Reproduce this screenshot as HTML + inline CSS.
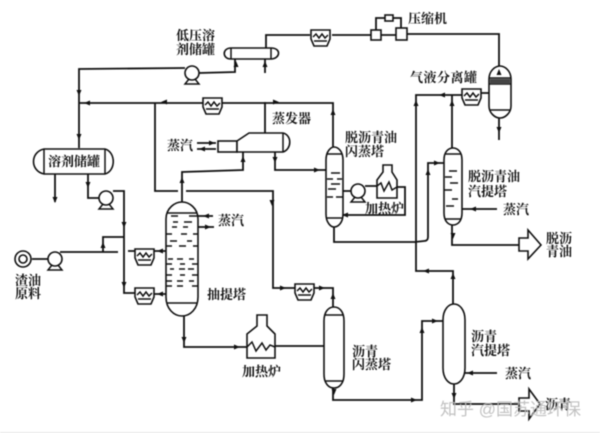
<!DOCTYPE html>
<html lang="zh"><head><meta charset="utf-8"><title>溶剂脱沥青工艺流程</title>
<style>
html,body{margin:0;padding:0;background:#fff}
svg{display:block;filter:blur(.45px)}
text{font-family:"Liberation Serif","Noto Serif CJK SC",serif;font-weight:700;font-size:13px;fill:#111}
.l{fill:none;stroke:#111;stroke-width:1.8}
.t{fill:none;stroke:#111;stroke-width:1.5}
.v{fill:#fff;stroke:#111;stroke-width:1.6}
</style></head><body>
<svg width="600" height="433" viewBox="0 0 600 433" xmlns="http://www.w3.org/2000/svg">
<defs>
<g id="cooler"><path class="v" d="M0 1H19V10L16 17H3L0 10Z"/><path class="t" d="M2 8l3-3 3 4 3-4 3 4 3-3M3 12H16"/></g>
<g id="pump"><circle class="v" cx="0" cy="0" r="7"/><path class="t" d="M-3 6L-7 11H7L3 6"/></g>
<path id="au" d="M-2.5 3L0 -3L2.5 3Z" fill="#111"/>
<path id="ar" d="M-3 -2.5L3 0L-3 2.5Z" fill="#111"/>
<path id="al" d="M3 -2.5L-3 0L3 2.5Z" fill="#111"/>
<path id="ad" d="M-2.5 -3L0 3L2.5 -3Z" fill="#111"/>
</defs>

<!-- pipes -->
<g class="l">
<path d="M79 148V69L185 68M199 73L235 72V59M265 73V59"/>
<path d="M79 103H333V148"/>
<path d="M155 103V191H178"/>
<path d="M266 48V35H310M332 35H371M381 35H396M376 30V18H385M393 18H401V28M407 34H499V66"/>
<path d="M499 118V140M489 93H481M462 95H416V271H453V304M452 95V148"/>
<path d="M265 102V133M243 152V170L182 172V202M275 151V170H326"/>
<path d="M186 191H273V288H295M314 288H333V307"/>
<path d="M184 316V347H247M275 346H324"/>
<path d="M333 388V400H422V321H443"/>
<path d="M334 227V242H415L424 241Q428 241 428 237V163H444"/>
<path d="M343 191H351M365 186H378M397 187H405V215H343"/>
<path d="M462 209H497M465 373H497M198 216H213M198 227H214"/>
<path d="M452 225V245H519M454 384V404H519"/>
<path d="M55 174V202M88 174V198H100M113 191H124V293H135M153 294H166"/>
<path d="M124 237H103V252M60 252H118M32 259H48M128 251H135M153 251H166"/>
<path d="M197 143H216M197 149H216"/>
</g>

<!-- vessels -->
<path class="v" d="M231 48H271C282 48 280 59 271 59H231C222 59 222 48 231 48Z"/>
<path class="t" d="M231 48V59M271 48V59"/>
<path class="v" d="M44 149H105C116 152 116 171 105 174H44C30 171 30 152 44 149Z"/>
<path class="t" d="M44 149V174M105 149V174"/>
<rect class="v" x="371" y="30" width="10" height="10"/>
<rect class="v" x="396" y="28" width="11" height="12"/>
<rect class="v" x="385" y="15" width="8" height="6"/>
<path class="v" d="M489 79C489 71 495 66 500 66C505 66 511 71 511 79V106C511 113 505 118 500 118C495 118 489 113 489 106Z"/>
<path class="t" d="M489 78H511M489 84H511M490 110H510"/>
<path d="M490 79h20v5h-20z" fill="#444"/>
<rect class="v" x="218" y="141" width="19" height="11"/>
<path class="v" d="M237 141L249 133H283C292 135 292 149 283 152H237Z"/>
<path class="t" d="M283 133V152"/>
<path class="v" d="M166 219C166 208 175 202 182 202C189 202 198 208 198 219V297C198 309 190 316 182 316C174 316 166 309 166 297Z"/>
<path class="t" d="M167 213H197M167 303H197"/>
<path class="t" d="M171 216h7M189 216h8M173 222h5M184 222h8M172 227h5M183 227h5M166 234h6M181 234h6M193 234h5M170 241h7M187 241h5M166 246h6M179 246h7M193 246h5M168 259h5M177 259h6M189 259h5M166 264h6M180 264h5M192 264h6M170 269h4M179 269h6M188 269h6M166 275h6M180 275h5M192 275h6M166 281h6M177 281h6M189 281h5M166 286h6M177 286h6M192 286h6"/>
<path class="v" d="M326 160C326 151 331 147 334 147C338 147 343 151 343 160V214C343 223 338 227 334 227C331 227 326 223 326 214Z"/>
<path class="t" d="M327 154H342M327 218H342M331 173h9M327 179h6M337 179h5M331 184h9M328 189h8M327 197h6M336 197h7"/>
<path class="v" d="M444 160C444 151 449 148 453 148C457 148 462 151 462 160V213C462 222 457 225 453 225C449 225 444 222 444 213Z"/>
<path class="t" d="M445 154H461M445 219H461M449 171h8M445 177h7M450 183h8M444 190h8M452 199h6M446 206h8"/>
<path class="v" d="M324 321C324 311 329 307 334 307C339 307 344 311 344 321V374C344 384 339 388 334 388C329 388 324 384 324 374Z"/>
<path class="t" d="M325 315H343M325 381H343"/>
<path class="v" d="M443 320C443 309 449 304 454 304C459 304 465 309 465 320V368C465 379 459 384 454 384C449 384 443 379 443 368Z"/>
<path class="v" d="M257 315H267V326L275 334V358H247V334L257 326Z"/>
<path class="t" d="M247 347L252 342L256 351L262 343L266 350L270 345L275 347"/>
<path class="v" d="M383 165H392V172L397 180V198H377V180L383 172Z"/>
<path class="t" d="M377 186L381 183L384 191L389 182L392 190L397 187"/>

<!-- coolers -->
<use href="#cooler" x="203" y="97"/>
<use href="#cooler" x="311" y="29"/>
<use href="#cooler" x="462" y="88"/>
<use href="#cooler" x="295" y="283"/>
<use href="#cooler" x="135" y="248"/>
<use href="#cooler" x="135" y="287"/>

<!-- pumps -->
<use href="#pump" x="192" y="73"/>
<use href="#pump" x="106" y="198"/>
<use href="#pump" x="55" y="259"/>
<use href="#pump" x="358" y="191"/>
<circle class="v" cx="23" cy="259" r="8"/>
<circle class="v" cx="23" cy="259" r="4"/>

<!-- big arrows -->
<path class="v" d="M519 238H528V230L541 245L528 259V251H519Z"/>
<path class="v" d="M519 398H529V389L540 404L529 419V411H519Z"/>

<!-- small arrowheads -->
<use href="#ad" x="79" y="93"/><use href="#ad" x="79" y="137"/><use href="#al" x="87" y="103"/>
<use href="#al" x="164" y="102"/><use href="#ar" x="276" y="102"/><use href="#au" x="333" y="112"/>
<use href="#au" x="236" y="64"/><use href="#au" x="265" y="64"/><use href="#ad" x="55" y="200"/>
<use href="#ad" x="88" y="185"/><use href="#ad" x="124" y="225"/><use href="#ad" x="124" y="285"/>
<use href="#au" x="103" y="245"/><use href="#au" x="182" y="180"/><use href="#au" x="243" y="159"/>
<use href="#ad" x="275" y="160"/><use href="#ar" x="317" y="170"/><use href="#ad" x="272" y="203"/>
<use href="#ar" x="283" y="288"/><use href="#ar" x="322" y="288"/><use href="#au" x="333" y="296"/>
<use href="#au" x="499" y="72"/><use href="#ad" x="499" y="130"/><use href="#al" x="442" y="95"/>
<use href="#au" x="416" y="103"/><use href="#au" x="452" y="103"/><use href="#al" x="345" y="215"/>
<use href="#ar" x="437" y="163"/><use href="#au" x="428" y="172"/><use href="#al" x="473" y="209"/>
<use href="#ad" x="453" y="236"/><use href="#ad" x="334" y="392"/><use href="#ar" x="414" y="400"/>
<use href="#au" x="422" y="330"/><use href="#ar" x="435" y="321"/><use href="#al" x="426" y="271"/>
<use href="#au" x="453" y="276"/><use href="#al" x="470" y="373"/><use href="#ad" x="454" y="396"/>
<use href="#ad" x="184" y="340"/><use href="#ar" x="237" y="347"/><use href="#al" x="206" y="216"/>
<use href="#ar" x="208" y="227"/><use href="#al" x="160" y="251"/><use href="#al" x="160" y="294"/>
<use href="#ar" x="212" y="143"/><use href="#al" x="202" y="149"/>

<!-- labels -->
<text x="176" y="40">低压溶</text><text x="176" y="54">剂储罐</text>
<text x="408" y="23">压缩机</text>
<text x="410" y="82" style="letter-spacing:.5px">气液分离罐</text>
<text x="272" y="123">蒸发器</text>
<text x="345" y="142">脱沥青油</text><text x="345" y="156">闪蒸塔</text>
<text x="468" y="181">脱沥青油</text><text x="468" y="196">汽提塔</text>
<text x="503" y="214">蒸汽</text>
<text x="167" y="150">蒸汽</text>
<text x="218" y="225">蒸汽</text>
<text x="207" y="299">抽提塔</text>
<text x="365" y="213">加热炉</text>
<text x="242" y="376">加热炉</text>
<text x="48" y="166">溶剂储罐</text>
<text x="15" y="285">渣油</text><text x="15" y="298">原料</text>
<text x="352" y="356">沥青</text><text x="352" y="369">闪蒸塔</text>
<text x="471" y="341">沥青</text><text x="471" y="355">汽提塔</text>
<text x="505" y="378">蒸汽</text>
<text x="546" y="243">脱沥</text><text x="546" y="256">青油</text>
<text x="545" y="409">沥青</text>
<text x="440" y="415" style="font-family:'Liberation Sans','Noto Sans CJK SC',sans-serif;font-weight:400;font-size:17px;fill:#bbb;opacity:.9">知乎 @国苏通环保</text>
<line x1="0" y1="432.5" x2="600" y2="432.5" stroke="#e6e6e6" stroke-width="1"/>
</svg>
</body></html>
